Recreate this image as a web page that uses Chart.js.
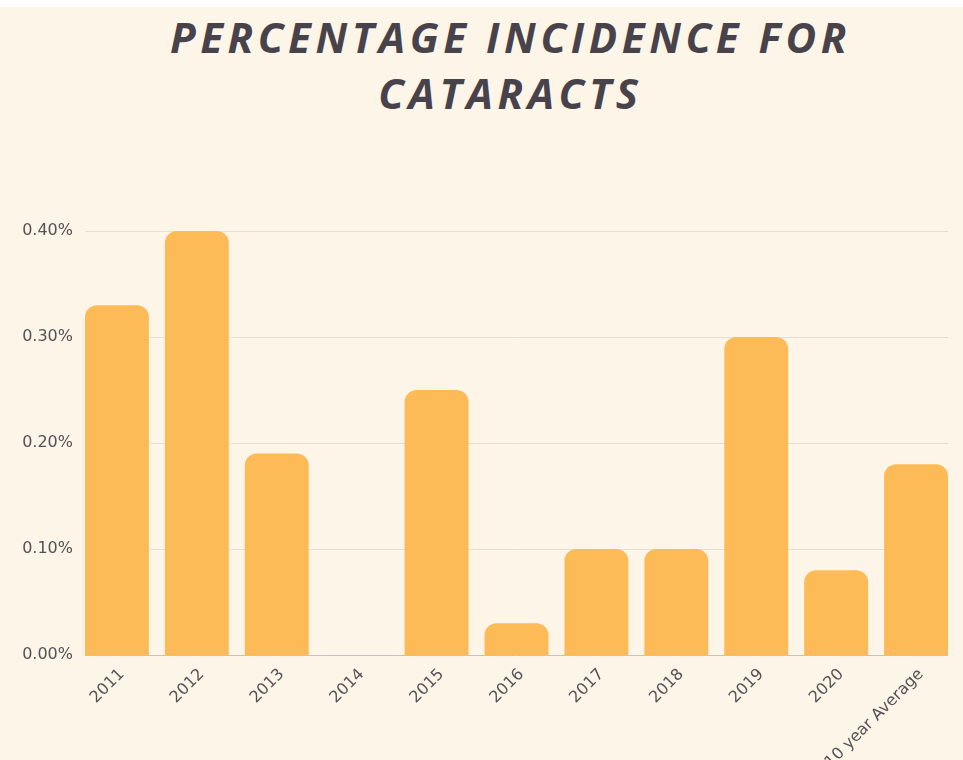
<!DOCTYPE html>
<html>
<head>
<meta charset="utf-8">
<script src="https://cdn.jsdelivr.net/npm/chart.js@4"></script>
<style>
  html, body { margin: 0; padding: 0; }
  body { width: 963px; height: 760px; background: #fdf5e7; position: relative; overflow: hidden; }
  .topStrip { position: absolute; left: 0; top: 0; width: 963px; height: 7px; background: #ffffff; }
  .title {
    position: absolute; left: 58px; top: 9px; width: 905px; text-align: center;
    font-family: "Open Sans", sans-serif; font-weight: 700; font-style: italic;
    font-size: 42px; line-height: 56px; letter-spacing: 4.6px; color: #48434a;
  }
  #chart { position: absolute; left: 0; top: 0; }
</style>
</head>
<body>
<div class="topStrip"></div>
<div class="title">PERCENTAGE INCIDENCE FOR<br>CATARACTS</div>
<canvas id="chart" width="963" height="760"></canvas>
<script>
const categories = ["2011", "2012", "2013", "2014", "2015", "2016", "2017", "2018", "2019", "2020", "10 year Average"];
const incidence = [0.33, 0.40, 0.19, 0, 0.25, 0.03, 0.10, 0.10, 0.30, 0.08, 0.18];
const yMax = 0.4;
const yStep = 0.1;

// grid + baseline drawn just inside the outer bar edges, like the reference
const insetGrid = {
    id: "insetGrid",
    beforeDatasetsDraw(chart) {
        const { ctx, chartArea, scales } = chart;
        const left = chartArea.left + 8;
        const right = chartArea.right - 8;
        ctx.save();
        ctx.lineWidth = 1;
        ctx.strokeStyle = "#e6ded2";
        scales.y.ticks.forEach((t) => {
            if (t.value === 0) return;
            const y = Math.round(scales.y.getPixelForValue(t.value)) + 0.5;
            ctx.beginPath();
            ctx.moveTo(left, y);
            ctx.lineTo(right, y);
            ctx.stroke();
        });
        ctx.restore();
    },
    afterDatasetsDraw(chart) {
        const { ctx, chartArea, scales } = chart;
        const y = Math.round(scales.y.getPixelForValue(0)) + 0.5;
        ctx.save();
        ctx.strokeStyle = "#c9c2ba";
        ctx.lineWidth = 1;
        ctx.beginPath();
        ctx.moveTo(chartArea.left + 8, y);
        ctx.lineTo(chartArea.right - 8, y);
        ctx.stroke();
        ctx.restore();
    },
};

new Chart(document.getElementById("chart"), {
    type: "bar",
    data: {
        labels: categories,
        datasets: [{
            label: "Incidence",
            data: incidence,
            backgroundColor: "#fdbb58",
            borderRadius: { topLeft: 12, topRight: 12 },
            borderSkipped: "bottom",
            categoryPercentage: 1,
            barPercentage: 0.8,
        }],
    },
    options: {
        responsive: false,
        animation: false,
        layout: { padding: { top: 231, right: 7, left: 0, bottom: 0 } },
        plugins: {
            legend: { display: false },
            tooltip: { enabled: false },
        },
        scales: {
            y: {
                min: 0,
                max: yMax,
                ticks: {
                    stepSize: yStep,
                    padding: -4,
                    color: "#545157",
                    font: { family: "DejaVu Sans", size: 16 },
                    callback: (v) => v.toFixed(2) + "%",
                },
                grid: { display: false },
                border: { display: false },
                afterFit(scale) { scale.width = 77; },
            },
            x: {
                ticks: {
                    maxRotation: 45,
                    minRotation: 45,
                    color: "#545157",
                    font: { family: "DejaVu Sans", size: 16 },
                    padding: 2,
                    labelOffset: 5,
                },
                grid: { display: false },
                border: { display: false },
                afterFit(scale) { scale.height = 105; },
            },
        },
    },
    plugins: [insetGrid],
});
</script>
</body>
</html>
